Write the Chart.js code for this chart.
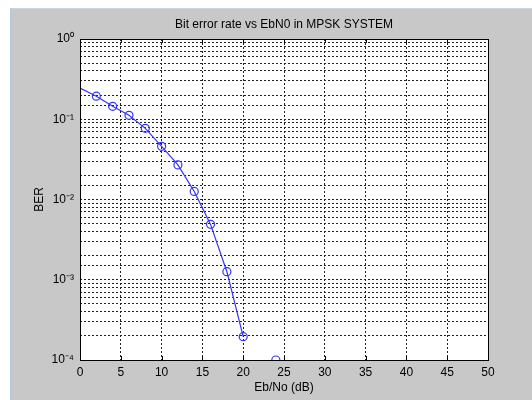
<!DOCTYPE html>
<html>
<head>
<meta charset="utf-8">
<script src="https://cdn.jsdelivr.net/npm/chart.js@4/dist/chart.umd.min.js"></script>
<style>
  body { margin: 0; background: #fff; }
  #wrap { position: relative; width: 532px; height: 400px; }
  #bg { position: absolute; left: 10px; top: 8px; right: 0; bottom: 0;
        background: #c8c8c8; border-left: 1px solid #b4c6dc; border-top: 1px solid #c6d4e4; }
  canvas { position: absolute; left: 0; top: 0; }
</style>
</head>
<body>
<div id="wrap">
  <div id="bg"></div>
  <canvas id="js-chart" width="532" height="400"></canvas>
</div>
<script>
'use strict';
// Eb/No in dB and measured bit error rate
const ebno = [0, 2, 4, 6, 8, 10, 12, 14, 16, 18, 20, 22, 24];
const ber = [0.245, 0.194, 0.145, 0.112, 0.077, 0.046, 0.027, 0.0126, 0.0049, 0.00126, 0.000195, null, 0.0001];
const markers = [0, 4, 4, 4, 4, 4, 4, 4, 4, 4, 4, 0, 4];
const xTicks = [0, 5, 10, 15, 20, 25, 30, 35, 40, 45, 50];
const titleText = 'Bit error rate vs EbN0 in MPSK SYSTEM';
const sup = { '0': '⁰', '1': '¹', '2': '²', '3': '³', '4': '⁴', '-': '⁻' };

const plotFrame = {
  id: 'plotFrame',
  beforeDraw(chart) {
    const a = chart.chartArea;
    const ctx = chart.ctx;
    ctx.save();
    ctx.fillStyle = '#fff';
    ctx.fillRect(a.left, a.top, a.right - a.left, a.bottom - a.top);
    ctx.restore();
  },
  afterDraw(chart) {
    const a = chart.chartArea;
    const ctx = chart.ctx;
    ctx.save();
    ctx.strokeStyle = '#000';
    ctx.lineWidth = 1;
    ctx.strokeRect(a.left + 0.5, a.top + 0.5, a.right - a.left, a.bottom - a.top);
    // small inside tick marks like matlab
    ctx.beginPath();
    for (let v of xTicks) {
      let x = Math.round(chart.scales.x.getPixelForValue(v)) + 0.5;
      ctx.moveTo(x, a.bottom); ctx.lineTo(x, a.bottom - 4);
      ctx.moveTo(x, a.top); ctx.lineTo(x, a.top + 4);
    }
    ctx.stroke();
    // title centred over the axes
    ctx.fillStyle = '#000';
    ctx.font = '12px "Liberation Sans", Arial';
    ctx.textAlign = 'center';
    ctx.textBaseline = 'middle';
    ctx.fillText(titleText, (a.left + a.right) / 2, 25);
    ctx.restore();
  }
};

let ctx = document.getElementById('js-chart').getContext('2d');
let myChart = new Chart(ctx, {
  type: 'line',
  data: {
    labels: ebno,
    datasets: [
      {
        label: 'BER',
        data: ebno.map((x, i) => ({ x: x, y: ber[i] })),
        borderColor: '#3333ff',
        borderWidth: 1.2,
        backgroundColor: 'rgba(0,0,0,0)',
        pointRadius: markers,
        pointBorderColor: '#3333ff',
        pointBorderWidth: 1.2,
        pointBackgroundColor: 'rgba(0,0,0,0)',
        spanGaps: false,
        tension: 0
      }
    ]
  },
  options: {
    responsive: false,
    animation: false,
    layout: { padding: { top: 39, right: 44, bottom: 0, left: 0 } },
    plugins: {
      legend: { display: false },
      tooltip: { enabled: false },
      title: { display: false }
    },
    scales: {
      x: {
        type: 'linear',
        min: 0,
        max: 50,
        afterBuildTicks: (s) => { s.ticks = xTicks.map(v => ({ value: v })); },
        grid: { color: '#222', drawTicks: false, lineWidth: 1 },
        border: { display: false, dash: [2, 2] },
        ticks: { color: '#000', padding: 5, font: { family: 'Liberation Sans, Arial', size: 12 } },
        title: { display: true, text: 'Eb/No (dB)', color: '#000', padding: { top: 2, bottom: 5 },
                 font: { family: 'Liberation Sans, Arial', size: 12 } },
        afterFit: (s) => { s.height = 40; }
      },
      y: {
        type: 'logarithmic',
        min: 0.0001,
        max: 1,
        grid: { color: '#222', drawTicks: false, lineWidth: 1 },
        border: { display: false, dash: [2, 2] },
        ticks: {
          color: '#000',
          padding: 6,
          autoSkip: false,
          font: { family: 'Liberation Sans, Arial', size: 12 },
          callback: function(v) {
            let e = Math.log10(v);
            if (Math.abs(e - Math.round(e)) > 1e-6) return '';
            return '10' + String(Math.round(e)).split('').map(c => sup[c]).join('');
          }
        },
        title: { display: true, text: 'BER', color: '#000', padding: { top: 32, bottom: 0 },
                 font: { family: 'Liberation Sans, Arial', size: 12 } },
        afterFit: (s) => { s.width = 80; }
      }
    }
  },
  plugins: [plotFrame]
});
</script>
</body>
</html>
